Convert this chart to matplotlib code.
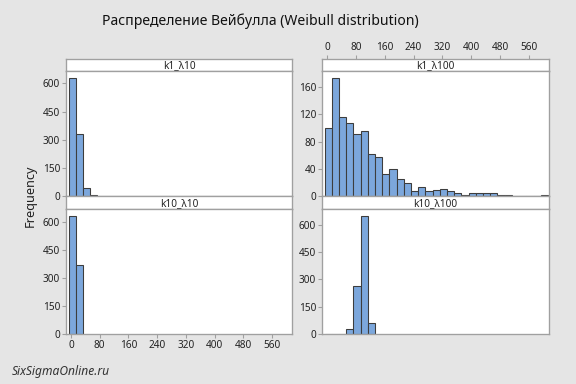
#!/usr/bin/env python3

# numpy
import numpy as np
# plotting
import matplotlib
matplotlib.use("Agg")
import matplotlib.pyplot as plt

plt.rcParams['font.family'] = ['Noto Sans', 'DejaVu Sans']

# histogram data (counts per bin, bins of width 20 starting at -7)
bin_start = -7
bin_width = 20
counts_k1_l10 = [627, 330, 43, 7]
counts_k1_l100 = [100, 173, 116, 108, 92, 95, 62, 57, 32, 40, 25, 19, 8, 13, 8, 9,
                  11, 8, 4, 2, 5, 5, 5, 4, 2, 2, 0, 0, 0, 0, 1]
counts_k10_l10 = [630, 370]
counts_k10_l100 = [0, 0, 1, 30, 263, 647, 60]

panel_names = ["k1_λ10", "k1_λ100", "k10_λ10", "k10_λ100"]
panel_counts = [counts_k1_l10, counts_k1_l100, counts_k10_l10, counts_k10_l100]
panel_yticks = [[0, 150, 300, 450, 600], [0, 40, 80, 120, 160],
                [0, 150, 300, 450, 600], [0, 150, 300, 450, 600]]
panel_ymax = [666, 184, 668, 686]
x_ticks = [0, 80, 160, 240, 320, 400, 480, 560]
x_lim = (-14, 616)

W, H = 576, 384
BG = "#e5e5e5"
FRAME = "#a0a0a0"
TEXT = "#222222"


def box(x0, y0, x1, y1):
    # pixel box (top-left origin) -> figure fraction
    return [x0 / W, 1 - y1 / H, (x1 - x0) / W, (y1 - y0) / H]


def main():
    fig = plt.figure(figsize=(W / 96, H / 96), dpi=96, facecolor=BG)

    cols = [(66, 292), (322, 549)]
    rows = [(59, 71, 196), (196, 209, 334)]

    for index, name in enumerate(panel_names):
        row, col = divmod(index, 2)
        x0, x1 = cols[col]
        s0, p0, p1 = rows[row]

        # strip header
        strip = fig.add_axes(box(x0, s0, x1, p0))
        strip.set_facecolor("white")
        strip.set_xlim(*x_lim)
        strip.set_yticks([])
        strip.text(0.5, 0.45, name, transform=strip.transAxes, ha="center", va="center",
                   fontsize=7.5, color=TEXT)
        for spine in strip.spines.values():
            spine.set_color(FRAME)
            spine.set_linewidth(1.0)
        if index == 1:
            strip.xaxis.tick_top()
            strip.set_xticks(x_ticks)
            strip.tick_params(axis="x", length=3, color=FRAME, labelsize=7.5,
                              labelcolor=TEXT, pad=1.5)
        else:
            strip.set_xticks([])

        # histogram panel
        ax = fig.add_axes(box(x0, p0, x1, p1))
        ax.set_facecolor("white")
        counts = np.array(panel_counts[index])
        lefts = bin_start + bin_width * np.arange(len(counts))
        ax.bar(lefts, counts, width=bin_width, align="edge", color="#7ca7dc",
               edgecolor="#3d3d3d", linewidth=0.8)
        ax.set_xlim(*x_lim)
        ax.set_ylim(0, panel_ymax[index])
        ax.set_yticks(panel_yticks[index])
        ax.tick_params(axis="y", length=3, color=FRAME, labelsize=7.5, labelcolor=TEXT, pad=1.5)
        if index == 2:
            ax.set_xticks(x_ticks)
            ax.tick_params(axis="x", length=3, color=FRAME, labelsize=7.5, labelcolor=TEXT, pad=1.5)
        else:
            ax.set_xticks([])
        for spine in ax.spines.values():
            spine.set_color(FRAME)
            spine.set_linewidth(1.0)

    fig.text(260 / W, 1 - 21 / H, "Распределение Вейбулла (Weibull distribution)",
             ha="center", va="center", fontsize=10.5, color="#111111")
    fig.text(30 / W, 1 - 196 / H, "Frequency", rotation=90, ha="center", va="center",
             fontsize=9.5, color=TEXT)
    fig.text(12 / W, 1 - 372 / H, "SixSigmaOnline.ru", ha="left", va="center",
             fontsize=9, style="italic", color="#333333")

    fig.savefig("out.png", dpi=96, facecolor=BG)


if __name__ == '__main__':
    main()
